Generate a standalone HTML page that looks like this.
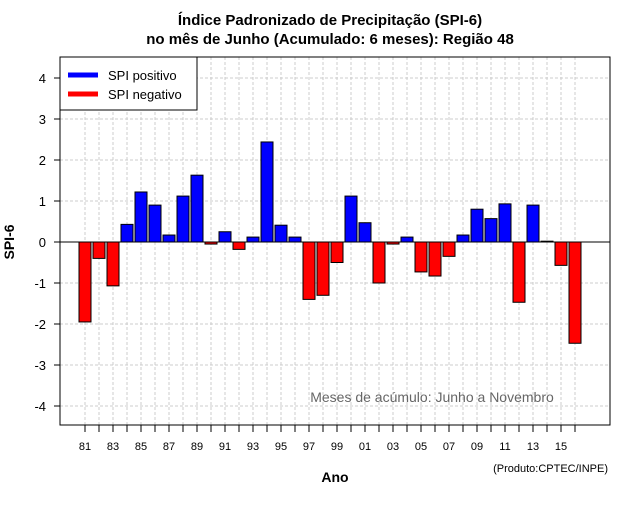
<!DOCTYPE html>
<html><head><meta charset="utf-8"><style>
body{margin:0;background:#fff;font-family:"Liberation Sans",sans-serif}
</style></head><body>
<svg id="c" width="640" height="500" xmlns="http://www.w3.org/2000/svg" font-family="Liberation Sans, sans-serif">
<text x="330" y="25" text-anchor="middle" font-size="15" font-weight="bold">Índice Padronizado de Precipitação (SPI-6)</text>
<text x="330" y="44" text-anchor="middle" font-size="15" font-weight="bold">no mês de Junho (Acumulado: 6 meses): Região 48</text>
<g id="grid"></g><g id="bars"></g><g id="axes"></g>
<rect x="60" y="57" width="550" height="368" fill="none" stroke="#000"/>
<g>
<rect x="60" y="57" width="137" height="53" fill="#fff" stroke="#000"/>
<line x1="68" y1="75" x2="98" y2="75" stroke="#00f" stroke-width="5"/>
<text x="108" y="80" font-size="13">SPI positivo</text>
<line x1="68" y1="94" x2="98" y2="94" stroke="#f00" stroke-width="5"/>
<text x="108" y="99" font-size="13">SPI negativo</text>
</g>
<text x="432" y="402" text-anchor="middle" font-size="14" fill="#666">Meses de acúmulo: Junho a Novembro</text>
<text x="335" y="482" text-anchor="middle" font-size="14" font-weight="bold">Ano</text>
<text x="14" y="242" text-anchor="middle" font-size="14" font-weight="bold" transform="rotate(-90 14 242)">SPI-6</text>
<text x="608" y="472" text-anchor="end" font-size="11">(Produto:CPTEC/INPE)</text>
</svg>
<script>
const years=[81,82,83,84,85,86,87,88,89,90,91,92,93,94,95,96,97,98,99,0,1,2,3,4,5,6,7,8,9,10,11,12,13,14,15,16];
const spiValues=[-1.95,-0.4,-1.07,0.43,1.22,0.9,0.17,1.12,1.63,-0.05,0.25,-0.18,0.12,2.44,0.41,0.12,-1.4,-1.3,-0.5,1.12,0.47,-1.0,-0.05,0.12,-0.73,-0.83,-0.35,0.17,0.8,0.57,0.93,-1.47,0.9,0.02,-0.57,-2.47];
const yTicks=[-4,-3,-2,-1,0,1,2,3,4];
const NS="http://www.w3.org/2000/svg";
const y=v=>242-v*41, x=i=>85+i*14;
function mk(t,a,p){const e=document.createElementNS(NS,t);for(const k in a)e.setAttribute(k,a[k]);p.appendChild(e);return e;}
const g=document.getElementById('grid'),b=document.getElementById('bars'),ax=document.getElementById('axes');
yTicks.forEach(v=>{
 const l=mk('line',{x1:60,x2:610,y1:y(v),y2:y(v),stroke:'#ccc','stroke-dasharray':'3,2'},g);
 
 
 const tk=mk('line',{x1:54,x2:60,y1:y(v),y2:y(v),stroke:'#000'},ax);
 
 
 const t=mk('text',{x:46,y:y(v)+5,'text-anchor':'end','font-size':13},ax);t.textContent=v;
 
 
});
years.forEach((yr,i)=>{
 const l=mk('line',{x1:x(i),x2:x(i),y1:57,y2:425,stroke:'#ccc','stroke-dasharray':'3,2'},g);
 
 
 const tk=mk('line',{x1:x(i),x2:x(i),y1:425,y2:432,stroke:'#000'},ax);
 
 
 if(i%2===0){const t=mk('text',{x:x(i),y:450,'text-anchor':'middle','font-size':11},ax);t.textContent=String(yr).padStart(2,'0');
 
 }
});
mk('line',{x1:60,x2:610,y1:242,y2:242,stroke:'#000'},g);
spiValues.forEach((v,i)=>{
 const r=mk('rect',{x:x(i)-6,width:12,y:Math.min(y(v),242),height:Math.abs(v*41),fill:v>=0?'#00f':'#f00',stroke:'#000','stroke-width':1},b);
 
 
});
</script>
</body></html>
